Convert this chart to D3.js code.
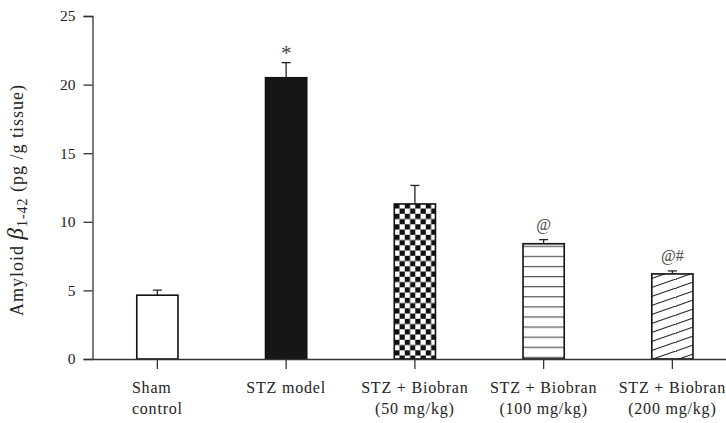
<!DOCTYPE html>
<html>
<head>
    <title>Amyloid beta 1-42 by group</title>
    <script type="text/javascript" src="https://d3js.org/d3.v7.min.js"></script>
    <style>
        body { margin: 0; background: #fff; }
        text { font-family: "Liberation Serif", "DejaVu Serif", serif; fill: #222; }
    </style>
</head>
<body>
    <div id="div-svg"></div>

    <script type="text/javascript">
        // chart data
        const categories = ["Sham control", "STZ model", "STZ + Biobran (50 mg/kg)",
            "STZ + Biobran (100 mg/kg)", "STZ + Biobran (200 mg/kg)"];
        const labelLines = [["Sham", "control"], ["STZ model"], ["STZ + Biobran", "(50 mg/kg)"],
            ["STZ + Biobran", "(100 mg/kg)"], ["STZ + Biobran", "(200 mg/kg)"]];
        const values = [4.65, 20.5, 11.3, 8.4, 6.2];
        const errors = [0.37, 1.1, 1.35, 0.3, 0.22];
        const marks = ["", "*", "", "@", "@#"];
        const yTicks = [0, 5, 10, 15, 20, 25];

        let width = 726;
        let height = 423;

        let svg = d3.select("#div-svg")
            .append("svg")
            .attr("id", "svg-1")
            .attr("width", width)
            .attr("height", height);

        // fill patterns for the bars
        let defs = svg.append("defs");

        let checker = defs.append("pattern")
            .attr("id", "pat-checker")
            .attr("patternUnits", "userSpaceOnUse")
            .attr("x", 394.3).attr("y", 203.3)
            .attr("width", 10.5).attr("height", 10.5);
        checker.append("rect").attr("width", 10.5).attr("height", 10.5).attr("fill", "#fff");
        checker.append("rect").attr("width", 5.25).attr("height", 5.25).attr("fill", "#111");
        checker.append("rect").attr("x", 5.25).attr("y", 5.25).attr("width", 5.25).attr("height", 5.25).attr("fill", "#111");

        let hstripe = defs.append("pattern")
            .attr("id", "pat-hstripe")
            .attr("patternUnits", "userSpaceOnUse")
            .attr("x", 0).attr("y", 245.7)
            .attr("width", 20).attr("height", 10.1);
        hstripe.append("rect").attr("width", 20).attr("height", 10.1).attr("fill", "#fff");
        hstripe.append("line").attr("x1", 0).attr("x2", 20).attr("y1", 0.6).attr("y2", 0.6)
            .attr("stroke", "#555").attr("stroke-width", 1.2);

        let diag = defs.append("pattern")
            .attr("id", "pat-diag")
            .attr("patternUnits", "userSpaceOnUse")
            .attr("x", 0).attr("y", 0)
            .attr("width", 26).attr("height", 9);
        diag.append("rect").attr("width", 26).attr("height", 9).attr("fill", "#fff");
        diag.append("path").attr("d", "M-1,9.35 L27,-0.35 M-27,9.35 L1,0 M25,18.35 L53,9")
            .attr("stroke", "#222").attr("stroke-width", 1.1);

        const fills = ["#fff", "#161616", "url(#pat-checker)", "url(#pat-hstripe)", "url(#pat-diag)"];

        // scales
        let xScale = d3.scaleBand()
            .domain(categories)
            .range([93, 736.75])
            .paddingInner(0.68)
            .paddingOuter(0.34);

        let yScale = d3.scaleLinear()
            .domain([0, 25])
            .range([359, 16]);

        // bars
        svg.selectAll("rect.bar")
            .data(categories)
            .enter()
            .append("rect")
            .attr("class", "bar")
            .attr("x", function (d) { return xScale(d); })
            .attr("y", function (d, i) { return yScale(values[i]); })
            .attr("width", xScale.bandwidth())
            .attr("height", function (d, i) { return yScale(0) - yScale(values[i]); })
            .attr("fill", function (d, i) { return fills[i]; })
            .attr("stroke", "#111")
            .attr("stroke-width", 1.6);

        // error bars (upper only)
        let err = svg.selectAll("g.err")
            .data(categories)
            .enter()
            .append("g")
            .attr("class", "err")
            .attr("stroke", "#222")
            .attr("stroke-width", 1.3);
        err.append("line")
            .attr("x1", function (d) { return xScale(d) + xScale.bandwidth() / 2; })
            .attr("x2", function (d) { return xScale(d) + xScale.bandwidth() / 2; })
            .attr("y1", function (d, i) { return yScale(values[i]); })
            .attr("y2", function (d, i) { return yScale(values[i] + errors[i]); });
        err.append("line")
            .attr("x1", function (d) { return xScale(d) + xScale.bandwidth() / 2 - 4.5; })
            .attr("x2", function (d) { return xScale(d) + xScale.bandwidth() / 2 + 4.5; })
            .attr("y1", function (d, i) { return yScale(values[i] + errors[i]); })
            .attr("y2", function (d, i) { return yScale(values[i] + errors[i]); });

        // significance marks
        svg.selectAll("text.mark")
            .data(categories)
            .enter()
            .append("text")
            .attr("class", "mark")
            .attr("x", function (d) { return xScale(d) + xScale.bandwidth() / 2; })
            .attr("y", function (d, i) {
                return yScale(values[i] + errors[i]) - (marks[i] == "*" ? 3 : 10);
            })
            .attr("text-anchor", "middle")
            .attr("font-size", function (d, i) { return marks[i] == "*" ? 21 : 16; })
            .style("fill", "#444")
            .text(function (d, i) { return marks[i]; });

        // axes
        let yAxis = d3.axisLeft(yScale)
            .tickValues(yTicks)
            .tickSizeOuter(0)
            .tickSize(9)
            .tickPadding(8);

        let yG = svg.append("g")
            .attr("transform", "translate(92.5,0)")
            .call(yAxis);
        yG.selectAll("text").attr("font-size", 15.5).attr("font-family", null);
        yG.selectAll("path, line").attr("stroke", "#333").attr("stroke-width", 1.3);

        let xAxis = d3.axisBottom(xScale)
            .tickSizeOuter(0)
            .tickSize(10)
            .tickFormat("");

        let xG = svg.append("g")
            .attr("transform", "translate(0,359)")
            .call(xAxis);
        xG.select(".domain").attr("d", "M92.5,0.5H" + width);
        xG.selectAll("path, line").attr("stroke", "#333").attr("stroke-width", 1.3);

        // category labels (the first one is left-aligned under its tick)
        svg.selectAll("text.cat")
            .data(categories)
            .enter()
            .append("text")
            .attr("class", "cat")
            .attr("font-size", 16)
            .attr("letter-spacing", 0.8)
            .each(function (d, i) {
                let t = d3.select(this);
                let cx = xScale(d) + xScale.bandwidth() / 2;
                labelLines[i].forEach(function (line, j) {
                    t.append("tspan")
                        .attr("x", cx)
                        .attr("y", 393 + j * 21)
                        .attr("text-anchor", "middle")
                        .text(line);
                });
                if (i == 0) {
                    let widest = d3.max(t.selectAll("tspan").nodes(), function (n) { return n.getComputedTextLength(); });
                    t.selectAll("tspan").attr("text-anchor", "start").attr("x", cx - widest / 2);
                }
            });

        // vertical axis label
        let yLabel = svg.append("text")
            .attr("transform", "translate(23,200) rotate(-90)")
            .attr("text-anchor", "middle")
            .attr("font-size", 18)
            .attr("letter-spacing", 1);
        yLabel.append("tspan").text("Amyloid ");
        yLabel.append("tspan").attr("font-style", "italic").attr("font-size", 23).text("β");
        yLabel.append("tspan").attr("font-size", 14).attr("dy", 4).text("1-42");
        yLabel.append("tspan").attr("dy", -4).text(" (pg /g tissue)");
    </script>
</body>
</html>
